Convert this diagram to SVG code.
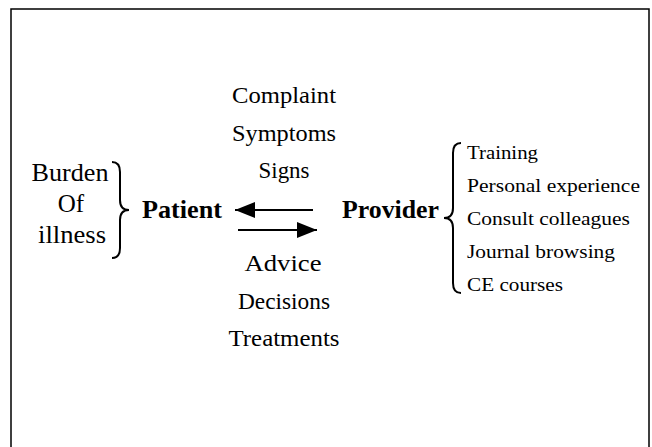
<svg xmlns="http://www.w3.org/2000/svg" width="652" height="447" viewBox="0 0 652 447">
<defs>
<style>
.t{font-family:"Liberation Serif","Times New Roman",serif;fill:#000;}
.c{font-size:23px;text-anchor:middle;}
.l{font-size:25px;text-anchor:middle;}
.b{font-size:25px;font-weight:bold;}
.r{font-size:18px;}
.ln{stroke:#000;fill:none;}
</style>
<marker id="ah" viewBox="0 0 10 8" refX="10" refY="4" markerWidth="10" markerHeight="8" markerUnits="strokeWidth" orient="auto">
<path d="M0,0 L10,4 L0,8 Z" fill="#000"/>
</marker>
</defs>
<rect width="652" height="447" fill="#fff"/>
<g id="frame" class="ln" stroke-width="1.5">
<path d="M11,447 L11,9 L649,9 L649,447"/>
</g>
<g id="burden">
<text class="t l" x="70" y="181" textLength="77" lengthAdjust="spacingAndGlyphs">Burden</text>
<text class="t l" x="71" y="212">Of</text>
<text class="t l" x="72" y="243" textLength="68" lengthAdjust="spacingAndGlyphs">illness</text>
<path class="ln" stroke-width="2" d="M112,162 Q120,162 120,172 L120,200 Q120,210 129,210 Q120,210 120,220 L120,248 Q120,258 112,258"/>
</g>
<g id="patient">
<text class="t b" x="142" y="218" textLength="80" lengthAdjust="spacingAndGlyphs">Patient</text>
</g>
<g id="provider">
<text class="t b" x="342" y="218" textLength="97" lengthAdjust="spacingAndGlyphs">Provider</text>
</g>
<g id="toProvider">
<text class="t c" x="284" y="103" textLength="104" lengthAdjust="spacingAndGlyphs">Complaint</text>
<text class="t c" x="284" y="141" textLength="104" lengthAdjust="spacingAndGlyphs">Symptoms</text>
<text class="t c" x="284" y="178" textLength="51" lengthAdjust="spacingAndGlyphs">Signs</text>
</g>
<g id="toPatient">
<text class="t c" x="283" y="271" textLength="77" lengthAdjust="spacingAndGlyphs">Advice</text>
<text class="t c" x="284" y="309" textLength="92" lengthAdjust="spacingAndGlyphs">Decisions</text>
<text class="t c" x="284" y="346" textLength="111" lengthAdjust="spacingAndGlyphs">Treatments</text>
</g>
<g id="sources">
<path class="ln" stroke-width="2" d="M461,143 Q453,143 453,153 L453,208 Q453,218 444,218 Q453,218 453,228 L453,283 Q453,293 461,293"/>
<text class="t r" x="467" y="159" textLength="71" lengthAdjust="spacingAndGlyphs">Training</text>
<text class="t r" x="467" y="192" textLength="173" lengthAdjust="spacingAndGlyphs">Personal experience</text>
<text class="t r" x="467" y="225" textLength="163" lengthAdjust="spacingAndGlyphs">Consult colleagues</text>
<text class="t r" x="467" y="258" textLength="148" lengthAdjust="spacingAndGlyphs">Journal browsing</text>
<text class="t r" x="467" y="291" textLength="96" lengthAdjust="spacingAndGlyphs">CE courses</text>
</g>
<g id="connectors" class="ln" stroke-width="2">
<line x1="313" y1="210" x2="235" y2="210" marker-end="url(#ah)"/>
<line x1="238" y1="230" x2="317" y2="230" marker-end="url(#ah)"/>
</g>
</svg>
